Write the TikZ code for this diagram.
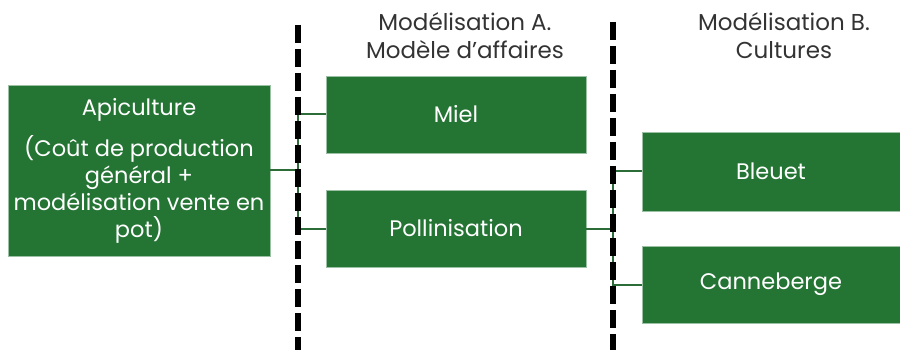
\documentclass[tikz,border=0pt]{standalone}
\usepackage{fontspec}
\setmainfont{Poppins}
\definecolor{boxgreen}{RGB}{36,116,52}
\definecolor{linkgreen}{RGB}{44,108,56}
\tikzset{
  box/.style={fill=boxgreen, draw=white!55!boxgreen, line width=0.8pt, text=white,
    inner sep=0pt, align=center, font=\fontsize{22.5}{27}\selectfont},
  header/.style={align=center, text=black!80, font=\fontsize{23}{28}\selectfont},
  link/.style={draw=linkgreen, line width=2pt},
  divider/.style={line width=6pt, dash pattern=on 18pt off 6pt},
}
\begin{document}
\begin{tikzpicture}[x=1pt, y=-1pt]
    \useasboundingbox (0,0) rectangle (900,350);
    % boxes
    \node[box, minimum width=262, minimum height=171] (api) at (139,170.5)
        {Apiculture\\[14pt](Coût de production\\général +\\modélisation vente en\\pot)};
    \node[box, minimum width=260, minimum height=77] (miel) at (456,114.5) {Miel};
    \node[box, minimum width=260, minimum height=77] (poll) at (456,228.5) {Pollinisation};
    \node[box, minimum width=258, minimum height=79] (bleuet) at (771,171.5) {Bleuet};
    \node[box, minimum width=258, minimum height=77] (cann) at (771,284.5) {Canneberge};
    \node[header] (hdrA) at (465,36) {Modélisation A.\\Modèle d’affaires};
    \node[header] (hdrB) at (784,36) {Modélisation B.\\Cultures};
    % elbow links
    \coordinate (busA) at (298,0);
    \coordinate (busB) at (613,0);
    \draw[link] (api.east) -- (api.east -| busA);
    \draw[link] (miel.west) -| (busA |- poll.west) -- (poll.west);
    \draw[link] (poll.east) -- (poll.east -| busB);
    \draw[link] (bleuet.west) -| (busB |- cann.west) -- (cann.west);
    % dashed separators
    \draw[divider] (298,25) -- (298,350);
    \draw[divider] (613,22) -- (613,350);
\end{tikzpicture}
\end{document}
